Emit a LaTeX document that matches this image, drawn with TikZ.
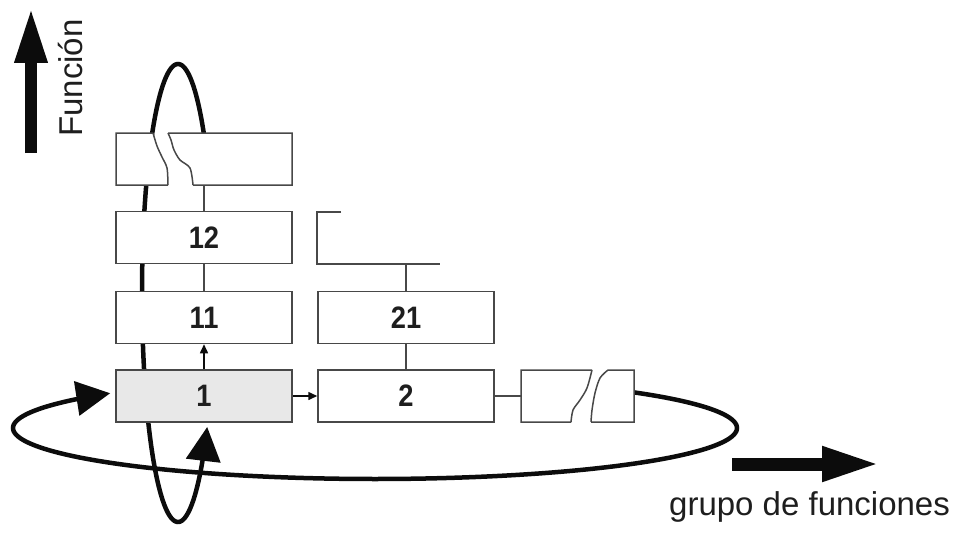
\documentclass[tikz,border=0pt]{standalone}
\usepackage{fontspec}
\usepackage{graphicx}
\setmainfont{Liberation Sans}
\usetikzlibrary{arrows.meta}
\definecolor{boxgray}{RGB}{72,72,72}
\definecolor{boxfill}{RGB}{232,232,232}
\definecolor{inkblack}{RGB}{12,12,12}
\definecolor{textgray}{RGB}{30,30,30}
\newcommand{\boxnum}[1]{\fontsize{31}{31}\selectfont\bfseries\scalebox{0.88}[1]{#1}}
\begin{document}
\begin{tikzpicture}[x=1pt,y=-1pt,
  funcbox/.style={draw=boxgray, line width=1.5pt, fill=white,
    minimum width=176pt, minimum height=52pt, inner sep=0pt, text=textgray},
  link/.style={draw=boxgray, line width=1.5pt},
  smallhead/.style={-{Triangle[length=9pt,width=8pt,color=inkblack]}, draw=inkblack},
  loopline/.style={draw=inkblack, line width=4.5pt,
    -{Triangle[length=34pt,width=34pt]}},
  label/.style={text=textgray, font=\fontsize{33}{33}\selectfont, inner sep=0pt}]
\useasboundingbox (0,0) rectangle (963,535);

% vertical loop (through the column of functions)
\draw[loopline] plot[domain=44.3:324.2, samples=160, variable=\t]
  ({178+36*cos(\t)},{293-229*sin(\t)});

% horizontal loop (through the row of function groups)
\draw[loopline] plot[domain=-44.4:223, samples=200, variable=\t]
  ({375+362*cos(\t)},{428+51*sin(\t)});

% function boxes
\node[funcbox] (b12) at (204,237.5) {\boxnum{12}};
\node[funcbox] (b11) at (204,317.5) {\boxnum{11}};
\node[funcbox, fill=boxfill] (b1) at (204,396) {\boxnum{1}};
\node[funcbox] (b21) at (406,317.5) {\boxnum{21}};
\node[funcbox] (b2) at (406,396) {\boxnum{2}};

% broken box at the top of the column
\coordinate (tbl) at (116,133);
\coordinate (tbr) at (292,185);
\coordinate (tbc) at (204,185);
\filldraw[link, fill=white] (153,133) -- (tbl) -- (116,185) -- (168,185)
  plot[smooth] coordinates {(168,185) (167,168) (162,157) (157,146) (153,133)};
\filldraw[link, fill=white] (168,133) -- (292,133) -- (tbr) -- (193,185)
  plot[smooth] coordinates {(193,185) (190,168) (180,160) (174,150) (171,140) (168,133)};

% broken box at the end of the row
\coordinate (rbl) at (521,396);
\filldraw[link, fill=white] (592,370) -- (521,370) -- (521,422) -- (571,422)
  plot[smooth] coordinates {(571,422) (573,410) (580,400) (587,388) (592,370)};
\filldraw[link, fill=white] (608,370) -- (634,370) -- (634,422) -- (591,422)
  plot[smooth] coordinates {(591,422) (592,410) (595,393) (600,378) (608,370)};

% open box above 21
\coordinate (ob) at (406,264);
\draw[link] (341,212) -- (317,212) -- (317,264) -- (440,264);

% connectors
\draw[link] (tbc) -- (b12.north);
\draw[link] (b12.south) -- (b11.north);
\draw[link, smallhead] (b1.north) -- (b11.south);
\draw[link, smallhead] (b1.east) -- (b2.west);
\draw[link] (b2.east) -- (rbl);
\draw[link] (b21.south) -- (b2.north);
\draw[link] (ob) -- (b21.north);

% axes
\coordinate (ua) at (31,153);
\coordinate (ub) at (31,7);
\draw[draw=inkblack, line width=12pt, -{Triangle[length=56pt,width=30pt]}] (ua) -- (ub);
\node[label, rotate=90, anchor=base west] (func) at (82,137) {Función};

\coordinate (ra) at (732,464);
\coordinate (rb) at (880,464);
\draw[draw=inkblack, line width=13pt, -{Triangle[length=58pt,width=32pt]}] (ra) -- (rb);
\node[label, anchor=base west] (grp) at (669,515) {grupo de funciones};
\end{tikzpicture}
\end{document}
